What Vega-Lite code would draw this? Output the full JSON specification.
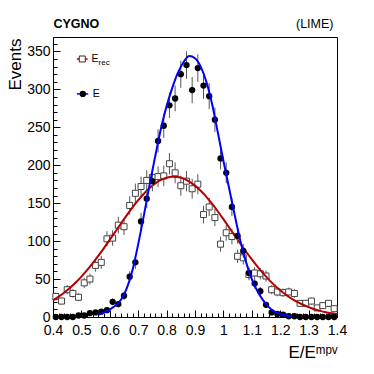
{
  "$schema": "https://vega.github.io/schema/vega-lite/v6.json",
  "width": 284,
  "height": 280,
  "autosize": "none",
  "padding": {"left": 53, "top": 37, "right": 37, "bottom": 57},
  "background": "white",
  "config": {
    "font": "Liberation Sans",
    "view": {"stroke": "#000", "strokeWidth": 1},
    "axis": {"domainColor": "#000", "tickColor": "#000", "labelColor": "#000", "titleColor": "#000", "grid": false, "labelFont": "Liberation Sans", "titleFont": "Liberation Sans", "titleFontWeight": "normal"}
  },
  "datasets": {
    "E": [
      {"x": 0.41, "n": 0, "err": 0}, {"x": 0.43, "n": 0, "err": 0}, {"x": 0.45, "n": 0, "err": 0}, {"x": 0.47, "n": 0, "err": 0},
      {"x": 0.49, "n": 2, "err": 1.4}, {"x": 0.51, "n": 2, "err": 1.4}, {"x": 0.53, "n": 5, "err": 2.2}, {"x": 0.55, "n": 6, "err": 2.4},
      {"x": 0.57, "n": 7, "err": 2.6}, {"x": 0.59, "n": 9, "err": 3}, {"x": 0.61, "n": 20, "err": 4.5}, {"x": 0.63, "n": 17, "err": 4.1},
      {"x": 0.65, "n": 28, "err": 5.3}, {"x": 0.67, "n": 53, "err": 7.3}, {"x": 0.69, "n": 72, "err": 8.5}, {"x": 0.71, "n": 126, "err": 11.2},
      {"x": 0.73, "n": 156, "err": 12.5}, {"x": 0.75, "n": 179, "err": 13.4}, {"x": 0.77, "n": 232, "err": 15.2}, {"x": 0.79, "n": 252, "err": 15.9},
      {"x": 0.81, "n": 279, "err": 16.7}, {"x": 0.83, "n": 288, "err": 17}, {"x": 0.85, "n": 320, "err": 17.9}, {"x": 0.87, "n": 332, "err": 18.2},
      {"x": 0.89, "n": 299, "err": 17.3}, {"x": 0.91, "n": 328, "err": 18.1}, {"x": 0.93, "n": 305, "err": 17.5}, {"x": 0.95, "n": 291, "err": 17.1},
      {"x": 0.97, "n": 260, "err": 16.1}, {"x": 0.99, "n": 209, "err": 14.5}, {"x": 1.01, "n": 190, "err": 13.8}, {"x": 1.03, "n": 145, "err": 12},
      {"x": 1.05, "n": 107, "err": 10.3}, {"x": 1.07, "n": 87, "err": 9.3}, {"x": 1.09, "n": 58, "err": 7.6}, {"x": 1.11, "n": 44, "err": 6.6},
      {"x": 1.13, "n": 34, "err": 5.8}, {"x": 1.15, "n": 16, "err": 4}, {"x": 1.17, "n": 6, "err": 2.4}, {"x": 1.19, "n": 4, "err": 2},
      {"x": 1.21, "n": 3, "err": 1.7}, {"x": 1.23, "n": 1, "err": 1}, {"x": 1.25, "n": 1, "err": 1}, {"x": 1.27, "n": 0, "err": 0},
      {"x": 1.29, "n": 0, "err": 0}, {"x": 1.31, "n": 0, "err": 0}, {"x": 1.33, "n": 0, "err": 0}, {"x": 1.35, "n": 0, "err": 0},
      {"x": 1.37, "n": 0, "err": 0}, {"x": 1.39, "n": 0, "err": 0}
    ],
    "Erec": [
      {"x": 0.41, "n": 27, "err": 5.2}, {"x": 0.43, "n": 21, "err": 4.6}, {"x": 0.45, "n": 36, "err": 6}, {"x": 0.47, "n": 31, "err": 5.6},
      {"x": 0.49, "n": 26, "err": 5.1}, {"x": 0.51, "n": 45, "err": 6.7}, {"x": 0.53, "n": 50, "err": 7.1}, {"x": 0.55, "n": 68, "err": 8.2},
      {"x": 0.57, "n": 72, "err": 8.5}, {"x": 0.59, "n": 103, "err": 10.1}, {"x": 0.61, "n": 104, "err": 10.2}, {"x": 0.63, "n": 121, "err": 11},
      {"x": 0.65, "n": 119, "err": 10.9}, {"x": 0.67, "n": 147, "err": 12.1}, {"x": 0.69, "n": 163, "err": 12.8}, {"x": 0.71, "n": 172, "err": 13.1},
      {"x": 0.73, "n": 180, "err": 13.4}, {"x": 0.75, "n": 184, "err": 13.6}, {"x": 0.77, "n": 185, "err": 13.6}, {"x": 0.79, "n": 186, "err": 13.6},
      {"x": 0.81, "n": 202, "err": 14.2}, {"x": 0.83, "n": 190, "err": 13.8}, {"x": 0.85, "n": 173, "err": 13.2}, {"x": 0.87, "n": 179, "err": 13.4},
      {"x": 0.89, "n": 169, "err": 13}, {"x": 0.91, "n": 175, "err": 13.2}, {"x": 0.93, "n": 135, "err": 11.6}, {"x": 0.95, "n": 145, "err": 12},
      {"x": 0.97, "n": 131, "err": 11.4}, {"x": 0.99, "n": 96, "err": 9.8}, {"x": 1.01, "n": 111, "err": 10.5}, {"x": 1.03, "n": 106, "err": 10.3},
      {"x": 1.05, "n": 80, "err": 8.9}, {"x": 1.07, "n": 78, "err": 8.8}, {"x": 1.09, "n": 56, "err": 7.5}, {"x": 1.11, "n": 58, "err": 7.6},
      {"x": 1.13, "n": 57, "err": 7.5}, {"x": 1.15, "n": 54, "err": 7.3}, {"x": 1.17, "n": 36, "err": 6}, {"x": 1.19, "n": 33, "err": 5.7},
      {"x": 1.21, "n": 32, "err": 5.7}, {"x": 1.23, "n": 33, "err": 5.7}, {"x": 1.25, "n": 31, "err": 5.6}, {"x": 1.27, "n": 18, "err": 4.2},
      {"x": 1.29, "n": 18, "err": 4.2}, {"x": 1.31, "n": 21, "err": 4.6}, {"x": 1.33, "n": 12, "err": 3.5}, {"x": 1.35, "n": 15, "err": 3.9},
      {"x": 1.37, "n": 18, "err": 4.2}, {"x": 1.39, "n": 11, "err": 3.3}
    ],
    "fitE": [
      {"x": 0.56, "f": 3}, {"x": 0.58, "f": 6}, {"x": 0.6, "f": 10}, {"x": 0.62, "f": 15}, {"x": 0.64, "f": 23},
      {"x": 0.66, "f": 38}, {"x": 0.68, "f": 62}, {"x": 0.7, "f": 96}, {"x": 0.72, "f": 134}, {"x": 0.74, "f": 174},
      {"x": 0.76, "f": 212}, {"x": 0.78, "f": 248}, {"x": 0.8, "f": 278}, {"x": 0.82, "f": 302}, {"x": 0.84, "f": 322},
      {"x": 0.86, "f": 336}, {"x": 0.88, "f": 344}, {"x": 0.9, "f": 341}, {"x": 0.92, "f": 330}, {"x": 0.94, "f": 310},
      {"x": 0.96, "f": 281}, {"x": 0.98, "f": 244}, {"x": 1.0, "f": 206}, {"x": 1.02, "f": 170}, {"x": 1.04, "f": 134},
      {"x": 1.06, "f": 100}, {"x": 1.08, "f": 72}, {"x": 1.1, "f": 50}, {"x": 1.12, "f": 34}, {"x": 1.14, "f": 22},
      {"x": 1.16, "f": 13}, {"x": 1.18, "f": 7}, {"x": 1.2, "f": 4}, {"x": 1.22, "f": 2}, {"x": 1.24, "f": 1}
    ],
    "fitErec": [
      {"x": 0.4, "f": 22}, {"x": 0.42, "f": 26.8}, {"x": 0.44, "f": 32.2}, {"x": 0.46, "f": 38.5}, {"x": 0.48, "f": 45.5},
      {"x": 0.5, "f": 53.3}, {"x": 0.52, "f": 61.8}, {"x": 0.54, "f": 71.1}, {"x": 0.56, "f": 80.9}, {"x": 0.58, "f": 91.2},
      {"x": 0.6, "f": 101.9}, {"x": 0.62, "f": 112.7}, {"x": 0.64, "f": 123.6}, {"x": 0.66, "f": 134.2}, {"x": 0.68, "f": 144.4},
      {"x": 0.7, "f": 153.9}, {"x": 0.72, "f": 162.5}, {"x": 0.74, "f": 169.9}, {"x": 0.76, "f": 176}, {"x": 0.78, "f": 180.6},
      {"x": 0.8, "f": 183.6}, {"x": 0.82, "f": 184.9}, {"x": 0.84, "f": 184.5}, {"x": 0.86, "f": 182.4}, {"x": 0.88, "f": 178.5},
      {"x": 0.9, "f": 173.1}, {"x": 0.92, "f": 166.3}, {"x": 0.94, "f": 158.3}, {"x": 0.96, "f": 149.3}, {"x": 0.98, "f": 139.4},
      {"x": 1.0, "f": 129}, {"x": 1.02, "f": 118.2}, {"x": 1.04, "f": 107.3}, {"x": 1.06, "f": 96.5}, {"x": 1.08, "f": 86},
      {"x": 1.1, "f": 75.9}, {"x": 1.12, "f": 66.4}, {"x": 1.14, "f": 57.5}, {"x": 1.16, "f": 49.3}, {"x": 1.18, "f": 41.9},
      {"x": 1.2, "f": 35.3}, {"x": 1.22, "f": 29.4}, {"x": 1.24, "f": 24.3}, {"x": 1.26, "f": 19.9}, {"x": 1.28, "f": 16.1},
      {"x": 1.3, "f": 13}, {"x": 1.32, "f": 10.3}, {"x": 1.34, "f": 8.1}, {"x": 1.36, "f": 6.3}, {"x": 1.38, "f": 4.9},
      {"x": 1.4, "f": 3.8}
    ],
    "legendRec": [{"series": "E_rec"}],
    "legendE": [{"series": "E"}]
  },
  "layer": [
    {
      "data": {"name": "Erec"},
      "mark": {"type": "errorbar", "color": "#555", "thickness": 1},
      "encoding": {
        "x": {"field": "x", "type": "quantitative", "scale": {"domain": [0.4, 1.4], "nice": false, "zero": false},
          "axis": {"orient": "bottom", "values": [0.4, 0.5, 0.6, 0.7, 0.8, 0.9, 1, 1.1, 1.2, 1.3, 1.4], "format": "~g", "tickSize": -7, "labelPadding": 13, "labelFontSize": 14, "labelFlush": false, "labelOverlap": false,
            "title": "E/Eᵐᵖᵛ", "titleFontSize": 17, "titleAlign": "right", "titleBaseline": "alphabetic", "titleX": 284, "titleY": 40}},
        "y": {"field": "n", "type": "quantitative", "scale": {"domain": [0, 369], "nice": false},
          "axis": {"orient": "left", "values": [0, 50, 100, 150, 200, 250, 300, 350], "tickSize": -7, "labelPadding": 10, "labelFontSize": 14, "labelOverlap": false,
            "title": "Events", "titleFontSize": 17, "titleAlign": "right", "titleAngle": -90, "titleBaseline": "alphabetic", "titleX": -33, "titleY": 1}},
        "yError": {"field": "err"}
      }
    },
    {
      "data": {"name": "Erec"},
      "mark": {"type": "point", "shape": "square", "filled": false, "fill": "white", "fillOpacity": 1, "stroke": "#444", "strokeWidth": 1, "size": 36, "opacity": 1},
      "encoding": {
        "x": {"field": "x", "type": "quantitative", "scale": {"domain": [0.4, 1.4], "nice": false, "zero": false},
          "axis": {"orient": "bottom", "values": [0.4, 0.42, 0.44, 0.46, 0.48, 0.5, 0.52, 0.54, 0.56, 0.58, 0.6, 0.62, 0.64, 0.66, 0.68, 0.7, 0.72, 0.74, 0.76, 0.78, 0.8, 0.82, 0.84, 0.86, 0.88, 0.9, 0.92, 0.94, 0.96, 0.98, 1, 1.02, 1.04, 1.06, 1.08, 1.1, 1.12, 1.14, 1.16, 1.18, 1.2, 1.22, 1.24, 1.26, 1.28, 1.3, 1.32, 1.34, 1.36, 1.38, 1.4], "tickSize": -4, "labels": false, "domain": false, "title": null}},
        "y": {"field": "n", "type": "quantitative", "scale": {"domain": [0, 369], "nice": false},
          "axis": {"orient": "left", "values": [0, 10, 20, 30, 40, 50, 60, 70, 80, 90, 100, 110, 120, 130, 140, 150, 160, 170, 180, 190, 200, 210, 220, 230, 240, 250, 260, 270, 280, 290, 300, 310, 320, 330, 340, 350, 360], "tickSize": -4, "labels": false, "domain": false, "title": null}}
      }
    },
    {
      "data": {"name": "fitErec"},
      "mark": {"type": "line", "color": "#b30000", "strokeWidth": 2, "interpolate": "monotone"},
      "encoding": {
        "x": {"field": "x", "type": "quantitative", "scale": {"domain": [0.4, 1.4], "nice": false, "zero": false},
          "axis": {"orient": "top", "domain": false, "ticks": false, "labels": false, "title": "(LIME)", "titleFontSize": 12.5, "titleAlign": "right", "titleBaseline": "alphabetic", "titleX": 280, "titleY": -10}},
        "y": {"field": "f", "type": "quantitative", "scale": {"domain": [0, 369], "nice": false}, "axis": null}
      }
    },
    {
      "data": {"name": "E"},
      "mark": {"type": "errorbar", "color": "#555", "thickness": 1},
      "encoding": {
        "x": {"field": "x", "type": "quantitative", "scale": {"domain": [0.4, 1.4], "nice": false, "zero": false}, "axis": null},
        "y": {"field": "n", "type": "quantitative", "scale": {"domain": [0, 369], "nice": false}, "axis": null},
        "yError": {"field": "err"}
      }
    },
    {
      "data": {"name": "E"},
      "mark": {"type": "circle", "color": "#000", "size": 40, "opacity": 1},
      "encoding": {
        "x": {"field": "x", "type": "quantitative", "scale": {"domain": [0.4, 1.4], "nice": false, "zero": false}, "axis": null},
        "y": {"field": "n", "type": "quantitative", "scale": {"domain": [0, 369], "nice": false}, "axis": null}
      }
    },
    {
      "data": {"name": "fitE"},
      "mark": {"type": "line", "color": "#0000ff", "strokeWidth": 2, "interpolate": "monotone"},
      "encoding": {
        "x": {"field": "x", "type": "quantitative", "scale": {"domain": [0.4, 1.4], "nice": false, "zero": false},
          "axis": {"orient": "top", "domain": false, "ticks": false, "labels": false, "title": "CYGNO", "titleFontSize": 12.5, "titleFontWeight": "bold", "titleAlign": "left", "titleBaseline": "alphabetic", "titleX": 0, "titleY": -10}},
        "y": {"field": "f", "type": "quantitative", "scale": {"domain": [0, 369], "nice": false}, "axis": null}
      }
    },
    {
      "data": {"name": "legendRec"},
      "mark": {"type": "rule", "color": "#b30000", "strokeWidth": 1.5},
      "encoding": {"x": {"datum": 0.484, "type": "quantitative", "axis": null}, "x2": {"datum": 0.522}, "y": {"datum": 340, "type": "quantitative", "axis": null}}
    },
    {
      "data": {"name": "legendRec"},
      "mark": {"type": "point", "shape": "square", "filled": false, "fill": "white", "fillOpacity": 1, "stroke": "#5a1a1a", "strokeWidth": 1, "size": 36, "opacity": 1},
      "encoding": {"x": {"datum": 0.503, "type": "quantitative", "axis": null}, "y": {"datum": 340, "type": "quantitative", "axis": null}}
    },
    {
      "data": {"name": "legendRec"},
      "mark": {"type": "text", "text": "E", "align": "left", "baseline": "middle", "fontSize": 10.5, "color": "#000"},
      "encoding": {"x": {"datum": 0.536, "type": "quantitative", "axis": null}, "y": {"datum": 340, "type": "quantitative", "axis": null}}
    },
    {
      "data": {"name": "legendRec"},
      "mark": {"type": "text", "text": "rec", "align": "left", "baseline": "middle", "fontSize": 8, "dx": 7, "dy": 4, "color": "#000"},
      "encoding": {"x": {"datum": 0.536, "type": "quantitative", "axis": null}, "y": {"datum": 340, "type": "quantitative", "axis": null}}
    },
    {
      "data": {"name": "legendE"},
      "mark": {"type": "rule", "color": "#0000ff", "strokeWidth": 1.5},
      "encoding": {"x": {"datum": 0.484, "type": "quantitative", "axis": null}, "x2": {"datum": 0.524}, "y": {"datum": 294, "type": "quantitative", "axis": null}}
    },
    {
      "data": {"name": "legendE"},
      "mark": {"type": "circle", "color": "#000", "size": 40, "opacity": 1},
      "encoding": {"x": {"datum": 0.505, "type": "quantitative", "axis": null}, "y": {"datum": 294, "type": "quantitative", "axis": null}}
    },
    {
      "data": {"name": "legendE"},
      "mark": {"type": "text", "text": "E", "align": "left", "baseline": "middle", "fontSize": 10.5, "color": "#000"},
      "encoding": {"x": {"datum": 0.54, "type": "quantitative", "axis": null}, "y": {"datum": 294, "type": "quantitative", "axis": null}}
    }
  ],
  "resolve": {"axis": {"x": "independent", "y": "independent"}}
}
